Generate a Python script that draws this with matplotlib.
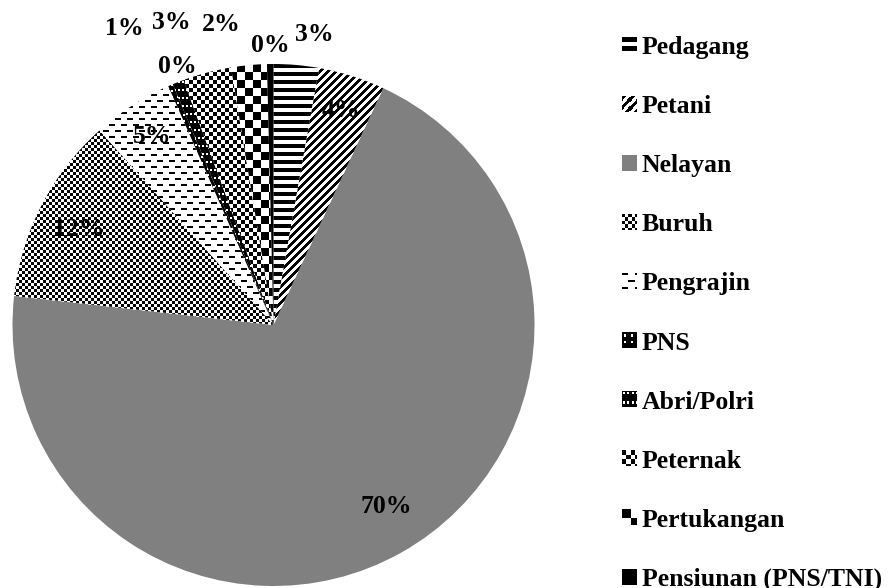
import numpy as np
import matplotlib
matplotlib.use("Agg")
import matplotlib.pyplot as plt
from matplotlib.legend_handler import HandlerBase
from matplotlib.image import BboxImage
from matplotlib.transforms import Bbox, TransformedBbox

plt.rcParams['font.family'] = ['Liberation Serif', 'DejaVu Serif']
plt.rcParams['font.weight'] = 'bold'

# share of each occupation (%)
jobs = ['Pedagang', 'Petani', 'Nelayan', 'Buruh', 'Pengrajin', 'PNS',
        'Abri/Polri', 'Peternak', 'Pertukangan', 'Pensiunan (PNS/TNI)']
share = [2.8, 4.1, 69.8, 11.6, 5.0, 0.3, 0.7, 3.0, 2.2, 0.4]

# label placement: distance from centre (radius units) and turn from slice middle (deg, ccw)
lbl_dist = [1.125, 0.86, 0.82, 0.83, 0.86, 1.055, 1.27, 1.225, 1.17, 1.07]
lbl_turn = [-3.0, 0.0, 2.5, 1.0, 0.0, -2.9, 5.3, 3.9, 4.4, 0.0]


# black/white fill patterns (0 = black, 1 = white)
def checker(n):
    y, x = np.mgrid[0:2 * n, 0:2 * n]
    return (((x // n) + (y // n)) % 2).astype(float)


def horiz():
    t = np.ones((8, 1))
    t[:4] = 0
    return t


def updiag():
    y, x = np.mgrid[0:8, 0:8]
    return (((x + y) % 8) >= 4).astype(float)


def dashes():
    t = np.ones((12, 12))
    t[0:2, 0:6] = 0
    t[6:8, 6:12] = 0
    return t


def darkdots():
    t = np.zeros((6, 6))
    t[2:4, 2:4] = 1
    return t


def darkv():
    t = np.zeros((8, 8))
    t[1:3, 1:3] = 1
    t[1:3, 5:7] = 1
    return t


tiles = [horiz(), updiag(), None, checker(3), dashes(), darkdots(),
         darkv(), checker(4), checker(8), np.zeros((4, 4))]


def fill(tile, n):
    reps = (n // tile.shape[0] + 1, n // tile.shape[1] + 1)
    return np.tile(tile, reps)[:n, :n]


class PatternHandler(HandlerBase):
    def __init__(self, arr):
        super().__init__()
        self.arr = arr

    def create_artists(self, legend, orig_handle, xdescent, ydescent,
                       width, height, fontsize, trans):
        bb = Bbox.from_bounds(-xdescent, -ydescent, width, height)
        img = BboxImage(TransformedBbox(bb, trans), cmap='gray',
                        interpolation='nearest')
        img.set_data(self.arr)
        img.set_clim(0, 1)
        return [img]


fig = plt.figure(figsize=(8.92, 5.88), dpi=100)
npx = 522
ax = fig.add_axes([12.5 / 892, 2 / 588, npx / 892, npx / 588])

wedges, texts, autotexts = ax.pie(
    share, startangle=90, counterclock=False, radius=1,
    colors=['#808080' if t is None else 'white' for t in tiles],
    wedgeprops=dict(linewidth=0), autopct='%.0f%%',
    textprops=dict(fontsize=18.5, fontweight='bold', color='black'))

for w, t in zip(wedges, tiles):
    if t is None:
        continue
    im = ax.imshow(fill(t, npx), extent=(-1, 1, -1, 1), cmap='gray', vmin=0, vmax=1,
                   interpolation='nearest', zorder=1.5)
    im.set_clip_path(w)

for w, txt, d, turn in zip(wedges, autotexts, lbl_dist, lbl_turn):
    ang = np.deg2rad((w.theta1 + w.theta2) / 2 + turn)
    txt.set_position((d * np.cos(ang), d * np.sin(ang)))
    txt.set_ha('center')
    txt.set_va('center')
    txt.set_zorder(5)

ax.set_xlim(-1, 1)
ax.set_ylim(-1, 1)
ax.set_aspect('equal')
ax.axis('off')

hmap = {}
for w, t in zip(wedges, tiles):
    if t is None:
        arr = np.full((14, 14), 0.5)
    else:
        arr = fill(t, 14)
    hmap[w] = PatternHandler(arr)

fig.legend(wedges, jobs, handler_map=hmap, loc='upper left',
           bbox_to_anchor=(622 / 892, 1 - 36 / 588), frameon=False,
           handlelength=0.545, handleheight=0.545, handletextpad=0.23,
           labelspacing=1.405, borderpad=0, borderaxespad=0,
           prop=dict(weight='bold', size=18.5))

fig.savefig('out.png', dpi=100)
